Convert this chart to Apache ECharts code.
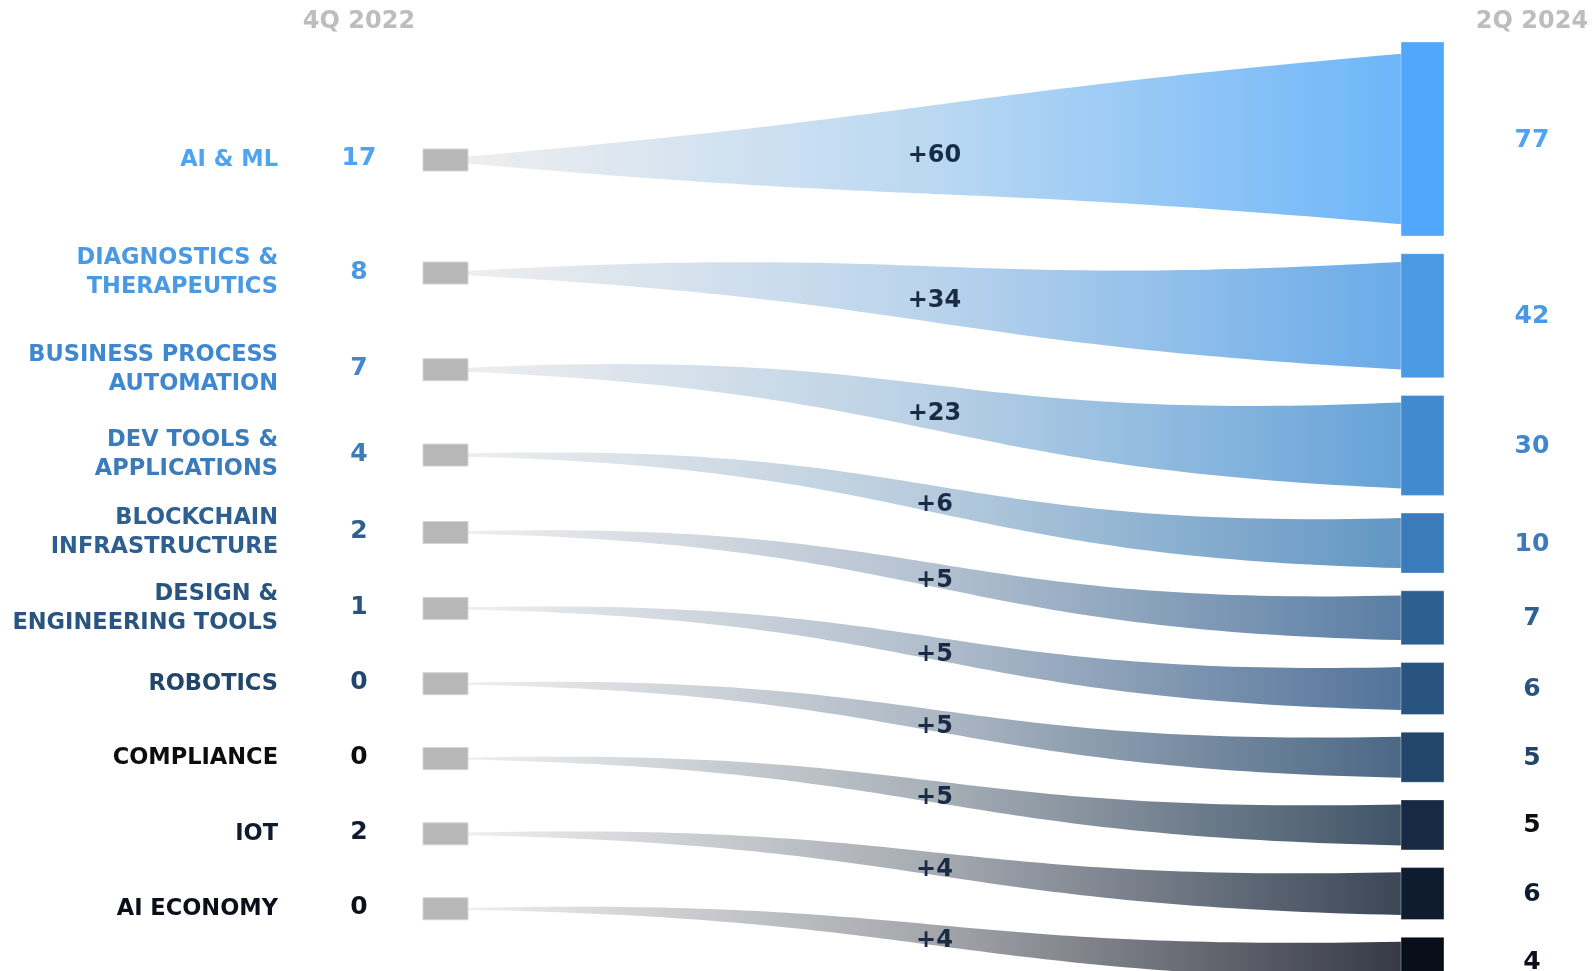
<!DOCTYPE html>
<html>
<head>
<meta charset="utf-8">
<title>Deal count by sector, 4Q 2022 to 2Q 2024</title>
<script src="https://cdn.jsdelivr.net/npm/echarts@6/dist/echarts.min.js"></script>
<style>
  html, body { margin: 0; padding: 0; background: #ffffff; }
  #chart { width: 1593px; height: 971px; }
</style>
</head>
<body>
<div id="chart"></div>
<script>
// ---- data ----
const categories = [
  'AI & ML',
  'DIAGNOSTICS &\nTHERAPEUTICS',
  'BUSINESS PROCESS\nAUTOMATION',
  'DEV TOOLS &\nAPPLICATIONS',
  'BLOCKCHAIN\nINFRASTRUCTURE',
  'DESIGN &\nENGINEERING TOOLS',
  'ROBOTICS',
  'COMPLIANCE',
  'IOT',
  'AI ECONOMY'
];
const periods = ['4Q 2022', '2Q 2024'];
const countStart = [17, 8, 7, 4, 2, 1, 0, 0, 2, 0];
const countEnd = [77, 42, 30, 10, 7, 6, 5, 5, 6, 4];

// ---- styles ----
const barColors = ['#4fa8fc', '#4a99e3', '#428ad0', '#3a7bbb', '#2d5f91',
                   '#28547f', '#21456b', '#172a44', '#0f1c2f', '#080e1a'];
const flowColors = ['#6db6f9', '#6aabe9', '#66a3d8', '#6296c4', '#5a7ea4',
                    '#53739a', '#4c6886', '#405468', '#3b4657', '#363a46'];
const labelColors = ['#4ea4f0', '#4a99e3', '#3f87d0', '#3a7bbb', '#2d5f91',
                     '#28547f', '#21456b', '#0d0d0d', '#0f1c2f', '#0a0f1a'];
const FONT = '"DejaVu Sans", sans-serif';

// ---- layout (axis units, one unit per pixel) ----
const X_LABEL = 278, X_START_VAL = 359, X_NODE0 = 423, X_NODE1 = 468;
const X_BAR0 = 1401, X_BAR1 = 1444, X_END_VAL = 1532;
const Y_HEAD = 22, BAR_TOP = 42, BAR_GAP = 17.7;
const LEFT_FIRST = 171.3, LEFT_STEP = 78.8, PULL = 0.35;
const barHeight = v => 40 + 2 * v;

// right-hand bars are stacked from the top, each sized by its 2Q 2024 count
const barTop = [], barH = [], barMid = [];
(function () {
  let y = BAR_TOP;
  countEnd.forEach(v => {
    const h = barHeight(v);
    barTop.push(y); barH.push(h); barMid.push(y + h / 2);
    y += h + BAR_GAP;
  });
})();
// left nodes sit on an even grid, pulled part of the way toward their bar
const nodeMid = barMid.map((m, i) => PULL * m + (1 - PULL) * (LEFT_FIRST + LEFT_STEP * i));
const flowStartWidth = v => 2 + 0.3 * v;
const flowEndWidth = h => 0.9 * h - 4;

function bez(a, b, c, d, t) {
  const u = 1 - t;
  return u * u * u * a + 3 * u * u * t * b + 3 * u * t * t * c + t * t * t * d;
}
function mix(c1, c2, f) {
  const p = s => [1, 3, 5].map(k => parseInt(s.substr(k, 2), 16));
  const a = p(c1), b = p(c2);
  return 'rgb(' + a.map((v, k) => Math.round(v + (b[k] - v) * f)).join(',') + ')';
}

function renderShapes(params, api) {
  const i = api.value(0);
  const yL = nodeMid[i], yR = barMid[i];
  const wL = flowStartWidth(countStart[i]), wR = flowEndWidth(barH[i]);
  const xm = (X_NODE1 + X_BAR0) / 2;
  const N = 80, top = [], bot = [];
  for (let k = 0; k <= N; k++) {
    const t = k / N;
    const x = bez(X_NODE1, xm, xm, X_BAR0, t);
    const yc = bez(yL, yL, yR, yR, t);
    const s = (x - X_NODE1) / (X_BAR0 - X_NODE1);
    const w = wL + (wR - wL) * s;
    top.push(api.coord([x, yc - w / 2]));
    bot.push(api.coord([x, yc + w / 2]));
  }
  const px0 = api.coord([X_NODE1, 0])[0], px1 = api.coord([X_BAR0, 0])[0];
  const grad = new echarts.graphic.LinearGradient(px0, 0, px1, 0, [
    { offset: 0, color: '#eeeeee' },
    { offset: 0.5, color: mix('#eeeeee', flowColors[i], 0.4) },
    { offset: 1, color: flowColors[i] }
  ], true);

  const n0 = api.coord([X_NODE0, yL - 11]), n1 = api.coord([X_NODE1, yL + 11]);
  const b0 = api.coord([X_BAR0, barTop[i]]), b1 = api.coord([X_BAR1, barTop[i] + barH[i]]);
  return {
    type: 'group',
    children: [
      { type: 'polygon', shape: { points: top.concat(bot.reverse()) }, style: { fill: grad } },
      { type: 'rect', shape: { x: n0[0], y: n0[1], width: n1[0] - n0[0], height: n1[1] - n0[1] },
        style: { fill: '#b7b7b7', stroke: '#d4d4d4', lineWidth: 1 } },
      { type: 'rect', shape: { x: b0[0], y: b0[1], width: b1[0] - b0[0], height: b1[1] - b0[1] },
        style: { fill: barColors[i], stroke: 'rgba(255,255,255,0.35)', lineWidth: 1 } }
    ]
  };
}

function txt(p, text, color, size, align, lh) {
  return {
    type: 'text', x: p[0], y: p[1],
    style: {
      text: text, fill: color, fontSize: size, fontWeight: 'bold', fontFamily: FONT,
      align: align, verticalAlign: 'middle', lineHeight: lh || Math.round(size * 1.3)
    }
  };
}

function renderTexts(params, api) {
  const i = api.value(0);
  const yL = nodeMid[i], yR = barMid[i];
  const children = [
    txt(api.coord([X_LABEL, yL]), categories[i], labelColors[i], 22.5, 'right', 29),
    txt(api.coord([X_START_VAL, yL - 1]), String(countStart[i]), labelColors[i], 25, 'center'),
    txt(api.coord([X_END_VAL, yR + 1]), String(countEnd[i]), labelColors[i], 25, 'center'),
    txt(api.coord([(X_NODE1 + X_BAR0) / 2, (yL + yR) / 2 + 6]),
        '+' + (countEnd[i] - countStart[i]), '#1a2b45', 24, 'center')
  ];
  if (i === 0) {
    children.push(txt(api.coord([X_START_VAL, Y_HEAD]), periods[0], '#bdbdbd', 24, 'center'));
    children.push(txt(api.coord([X_END_VAL, Y_HEAD]), periods[1], '#bdbdbd', 24, 'center'));
  }
  return { type: 'group', children: children };
}

const rows = categories.map((c, i) => [i, 0]);
const chart = echarts.init(document.getElementById('chart'), null, { renderer: 'canvas' });
chart.setOption({
  animation: false,
  backgroundColor: '#ffffff',
  grid: { left: 0, right: 0, top: 0, bottom: 0 },
  xAxis: { type: 'value', min: 0, max: 1593, show: false },
  yAxis: { type: 'value', min: 0, max: 971, inverse: true, show: false },
  series: [
    { type: 'custom', renderItem: renderShapes, data: rows, clip: false, silent: true },
    { type: 'custom', renderItem: renderTexts, data: rows, clip: false, silent: true }
  ]
});
</script>
</body>
</html>
